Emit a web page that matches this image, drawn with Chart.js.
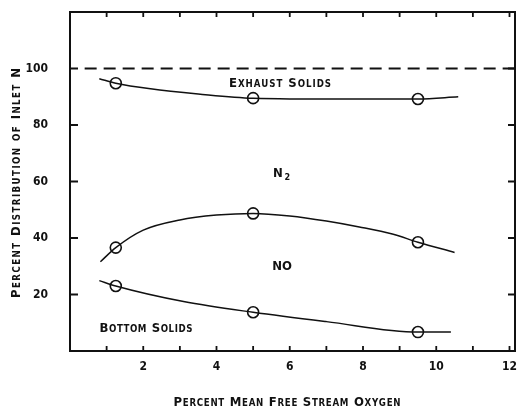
<!DOCTYPE html>
<html>
<head>
<meta charset="utf-8">
<script src="https://cdn.jsdelivr.net/npm/chart.js@4.4.1/dist/chart.umd.min.js"></script>
<style>
  html, body { margin: 0; padding: 0; background: #fff; }
  canvas { display: block; }
</style>
</head>
<body>
<canvas id="nitrogenChart" width="517" height="407"></canvas>
<script>
// measured points (open circles)
const oxygenPct = [1.25, 5.0, 9.5];
const exhaustSolids = [94.8, 89.5, 89.2];
const nitricOxide = [36.6, 48.7, 38.5];
const bottomSolids = [23.0, 13.7, 6.7];

// faired curves through the points, including the short end stubs
const exhaustCurveX = [0.8, 1.25, 2.2, 3.5, 5.0, 7.4, 9.5, 10.6];
const exhaustCurveY = [96.4, 94.8, 92.8, 91.0, 89.5, 89.2, 89.2, 90.0];
const noCurveX = [0.83, 1.25, 2.0, 3.0, 4.0, 5.0, 6.0, 7.0, 7.9, 8.8, 9.5, 10.5];
const noCurveY = [31.6, 36.6, 42.8, 46.4, 48.1, 48.7, 47.8, 46.0, 43.9, 41.4, 38.5, 34.9];
const bottomCurveX = [0.8, 1.25, 3.1, 5.0, 7.0, 9.5, 10.4];
const bottomCurveY = [24.9, 23.0, 17.5, 13.7, 10.4, 6.7, 6.7];

// 100 % total line
const totalX = [0.4, 12.15];
const totalY = [100, 100];

const xTicks = [1, 2, 3, 4, 5, 6, 7, 8, 9, 10, 11, 12];
const yTicks = [20, 40, 60, 80, 100];

const INK = "#111";
const FONT = "DejaVu Sans Condensed";

const pts = (xs, ys) => xs.map((x, i) => ({ x: x, y: ys[i] }));

function curve(xs, ys, extra) {
  return Object.assign({
    data: pts(xs, ys),
    showLine: true,
    borderColor: INK,
    borderWidth: 1.5,
    pointRadius: 0,
    cubicInterpolationMode: "monotone"
  }, extra || {});
}

function circles(ys) {
  return {
    data: pts(oxygenPct, ys),
    showLine: false,
    pointRadius: 5.5,
    pointBorderWidth: 1.6,
    pointBorderColor: INK,
    pointBackgroundColor: "#fff"
  };
}

// small-caps lettering: capitals full size, lower case drawn as smaller capitals
function drawCaps(ctx, text, cx, cy, size, width) {
  const chars = [...text].map(ch => {
    const small = ch !== ch.toUpperCase();
    return { ch: ch.toUpperCase(), size: small ? size * 0.74 : size };
  });
  let natural = 0;
  chars.forEach(c => {
    ctx.font = "bold " + c.size + "px '" + FONT + "'";
    c.w = ctx.measureText(c.ch).width;
    natural += c.w;
  });
  const gap = width ? (width - natural) / (chars.length - 1) : 0;
  let x = cx - (width || natural) / 2;
  const base = cy + size * 0.73 / 2;
  ctx.textAlign = "left";
  ctx.textBaseline = "alphabetic";
  chars.forEach(c => {
    ctx.font = "bold " + c.size + "px '" + FONT + "'";
    ctx.fillText(c.ch, x, base);
    x += c.w + gap;
  });
}

const framePlugin = {
  id: "frame",
  afterDraw(chart) {
    const { ctx, chartArea: a, scales: { x, y } } = chart;
    ctx.save();
    ctx.strokeStyle = INK;
    ctx.fillStyle = INK;
    ctx.lineWidth = 2;
    ctx.strokeRect(a.left, a.top, a.right - a.left, a.bottom - a.top);

    ctx.lineWidth = 1.8;
    ctx.beginPath();
    xTicks.forEach(v => {
      const px = x.getPixelForValue(v);
      ctx.moveTo(px, a.bottom); ctx.lineTo(px, a.bottom - 5);
      ctx.moveTo(px, a.top); ctx.lineTo(px, a.top + 5);
    });
    yTicks.forEach(v => {
      const py = y.getPixelForValue(v);
      ctx.moveTo(a.left, py); ctx.lineTo(a.left + 8, py);
      ctx.moveTo(a.right, py); ctx.lineTo(a.right - 7, py);
    });
    ctx.stroke();

    // region labels
    drawCaps(ctx, "Exhaust Solids", 280, 82, 13, 102);
    drawCaps(ctx, "Bottom Solids", 146, 327, 13, 93);
    drawCaps(ctx, "NO", 282, 265, 13, 0);
    ctx.font = "bold 13px '" + FONT + "'";
    ctx.textAlign = "left";
    ctx.textBaseline = "alphabetic";
    ctx.fillText("N", 273, 177);
    ctx.font = "bold 9px '" + FONT + "'";
    ctx.fillText("2", 284.5, 180);

    // axis titles
    drawCaps(ctx, "Percent Mean Free Stream Oxygen", 287, 401, 13, 227);
    ctx.translate(15, 183);
    ctx.rotate(-Math.PI / 2);
    drawCaps(ctx, "Percent Distribution of Inlet N", 0, 0, 13, 230);
    ctx.restore();
  }
};

new Chart(document.getElementById("nitrogenChart"), {
  type: "scatter",
  data: {
    datasets: [
      curve(totalX, totalY, { borderDash: [12, 7], borderWidth: 1.8, cubicInterpolationMode: "default" }),
      curve(exhaustCurveX, exhaustCurveY),
      curve(noCurveX, noCurveY),
      curve(bottomCurveX, bottomCurveY),
      circles(exhaustSolids),
      circles(nitricOxide),
      circles(bottomSolids)
    ]
  },
  options: {
    responsive: false,
    animation: false,
    layout: { autoPadding: false, padding: { top: 12, right: 2, left: 0, bottom: 0 } },
    plugins: {
      legend: { display: false },
      tooltip: { enabled: false }
    },
    scales: {
      x: {
        type: "linear",
        min: 0,
        max: 12.15,
        grid: { display: false, drawTicks: false },
        border: { display: false },
        afterBuildTicks: scale => { scale.ticks = xTicks.map(v => ({ value: v })); },
        afterFit: scale => {
          scale.height = 56;
          scale.paddingLeft = 0;
          scale.paddingRight = 0;
        },
        ticks: {
          autoSkip: false,
          maxRotation: 0,
          padding: 9,
          color: INK,
          font: { family: FONT, weight: "bold", size: 12 },
          callback: v => (v % 2 === 0 ? v : "")
        }
      },
      y: {
        type: "linear",
        min: 0,
        max: 120,
        grid: { display: false, drawTicks: false },
        border: { display: false },
        afterBuildTicks: scale => { scale.ticks = yTicks.map(v => ({ value: v })); },
        afterFit: scale => {
          scale.width = 70;
          scale.paddingTop = 0;
          scale.paddingBottom = 0;
        },
        ticks: {
          padding: 22,
          color: INK,
          font: { family: FONT, weight: "bold", size: 12 }
        }
      }
    }
  },
  plugins: [framePlugin]
});
</script>
</body>
</html>
